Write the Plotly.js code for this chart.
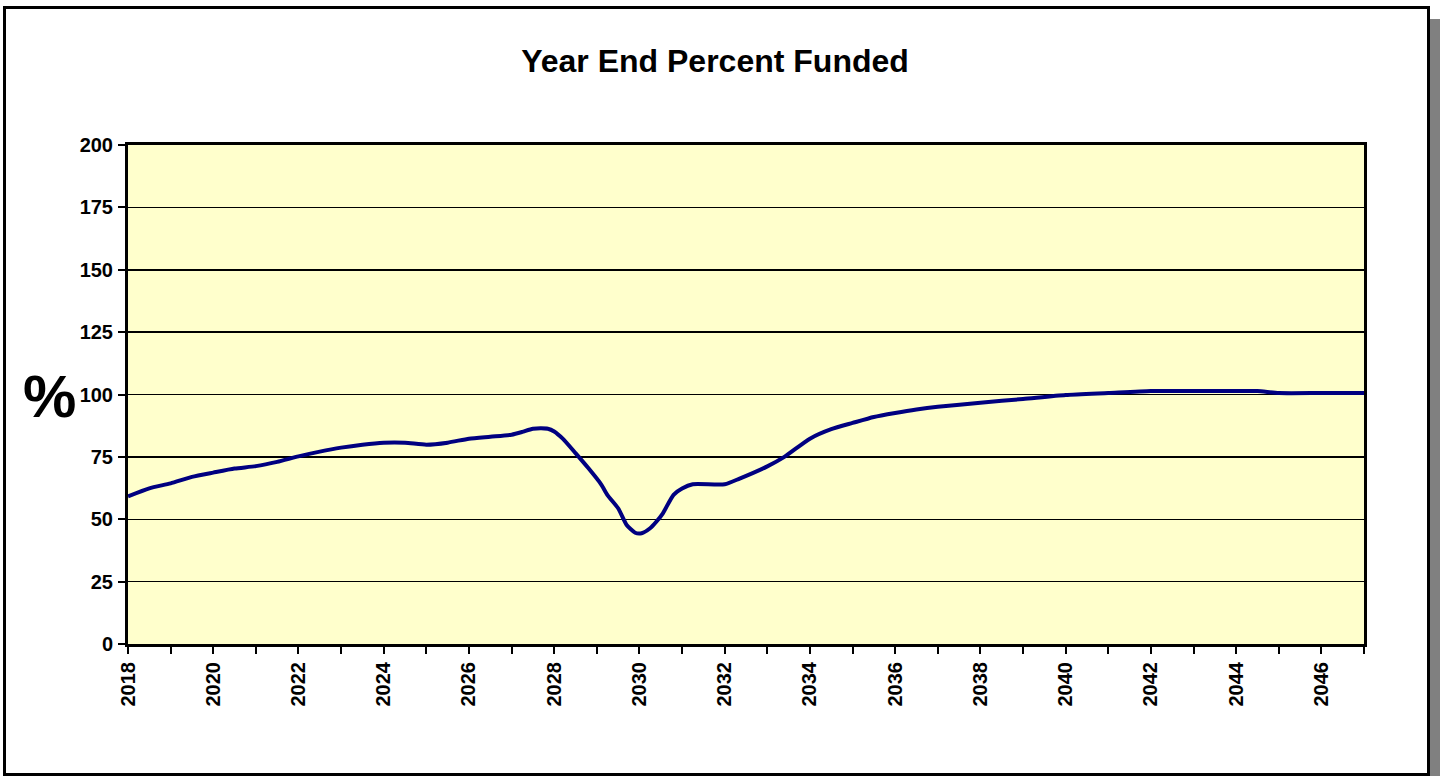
<!DOCTYPE html>
<html>
<head>
<meta charset="utf-8">
<script src="https://cdn.plot.ly/plotly-3.0.1.min.js"></script>
<style>
  html, body { margin: 0; padding: 0; background: #ffffff; width: 1440px; height: 776px; overflow: hidden; }
  #shadow { position: absolute; left: 1430px; top: 19px; width: 10px; height: 757px; background: #808080; }
  #frame { position: absolute; left: 3px; top: 6px; width: 1421px; height: 764px; border: 3px solid #000; background: #fff; }
  #chart { position: absolute; left: 0; top: 0; width: 1440px; height: 776px; }
</style>
</head>
<body>
<div id="shadow"></div>
<div id="frame"></div>
<div id="chart"></div>
<script>
// Data
const years = [2018, 2018.5, 2019, 2019.5, 2020, 2020.5, 2021, 2021.5, 2022, 2022.5, 2023, 2023.5,
  2024, 2024.5, 2025, 2025.5, 2026, 2026.5, 2027, 2027.25, 2027.5, 2027.85, 2028, 2028.2, 2028.5,
  2028.8, 2029.1, 2029.25, 2029.5, 2029.7, 2029.9, 2030.05, 2030.25, 2030.4, 2030.55, 2030.8,
  2031, 2031.25, 2032, 2032.35, 2033, 2033.4, 2034, 2034.5, 2035, 2035.5, 2036, 2036.5, 2037,
  2038, 2039, 2040, 2041, 2042, 2043, 2044, 2044.5, 2045, 2046, 2047];
const funded = [59.2, 62.4, 64.4, 67.0, 68.7, 70.3, 71.3, 73.0, 75.2, 77.1, 78.7, 79.9,
  80.7, 80.7, 79.9, 80.7, 82.3, 83.1, 83.9, 85.0, 86.3, 86.3, 85.2, 82.3, 76.5,
  70.5, 64.0, 59.7, 54.4, 47.7, 44.6, 44.4, 46.4, 49.1, 52.4, 59.8,
  62.3, 64.0, 64.0, 66.3, 71.2, 75.0, 82.3, 86.1, 88.6, 91.0, 92.6, 94.0, 95.1,
  96.7, 98.2, 99.8, 100.6, 101.4, 101.4, 101.4, 101.4, 100.6, 100.6, 100.6];
const tickYears = [2018, 2019, 2020, 2021, 2022, 2023, 2024, 2025, 2026, 2027, 2028, 2029, 2030, 2031,
  2032, 2033, 2034, 2035, 2036, 2037, 2038, 2039, 2040, 2041, 2042, 2043, 2044, 2045, 2046, 2047];
const tickLabels = ["2018", "", "2020", "", "2022", "", "2024", "", "2026", "", "2028", "", "2030", "",
  "2032", "", "2034", "", "2036", "", "2038", "", "2040", "", "2042", "", "2044", "", "2046", ""];
const yTicks = [0, 25, 50, 75, 100, 125, 150, 175, 200];

const FONT = "Liberation Sans, Arial, sans-serif";

const trace = {
  x: years, y: funded, type: "scatter", mode: "lines",
  line: { color: "#000080", width: 4, shape: "spline", smoothing: 0.6 },
  hoverinfo: "x+y"
};

const layout = {
  width: 1440, height: 776,
  margin: { l: 128, r: 76, t: 145, b: 132, pad: 0 },
  paper_bgcolor: "rgba(0,0,0,0)",
  plot_bgcolor: "#FFFFCC",
  showlegend: false,
  font: { family: FONT, color: "#000" },
  title: {
    text: "<b>Year End Percent Funded</b>",
    font: { family: FONT, size: 32, color: "#000" },
    xref: "container", yref: "container",
    x: 715 / 1440, y: 1 - 61 / 776, xanchor: "center", yanchor: "middle"
  },
  xaxis: {
    range: [2018, 2047], fixedrange: true,
    tickmode: "array", tickvals: tickYears, ticktext: tickLabels,
    tickangle: -90, ticks: "outside", ticklen: 7, tickwidth: 2, tickcolor: "#000",
    tickfont: { family: FONT, size: 20, color: "#000", weight: "bold" },
    showgrid: false, zeroline: false,
    showline: true, linecolor: "#000", linewidth: 3, mirror: true
  },
  yaxis: {
    range: [0, 200], fixedrange: true,
    tickmode: "array", tickvals: yTicks,
    ticks: "outside", ticklen: 7, tickwidth: 2, tickcolor: "#000",
    ticklabelstandoff: 1,
    tickfont: { family: FONT, size: 20, color: "#000", weight: "bold" },
    showgrid: true, gridcolor: "#000", gridwidth: 1.5, zeroline: false,
    showline: true, linecolor: "#000", linewidth: 3, mirror: true
  },
  annotations: [{
    text: "<b>%</b>", xref: "paper", yref: "paper",
    x: -79 / 1236, y: (644 - 396) / 499, xanchor: "center", yanchor: "middle",
    showarrow: false, font: { family: FONT, size: 60, color: "#000" }
  }]
};

Plotly.newPlot("chart", [trace], layout, { displayModeBar: false, staticPlot: true });
</script>
</body>
</html>
